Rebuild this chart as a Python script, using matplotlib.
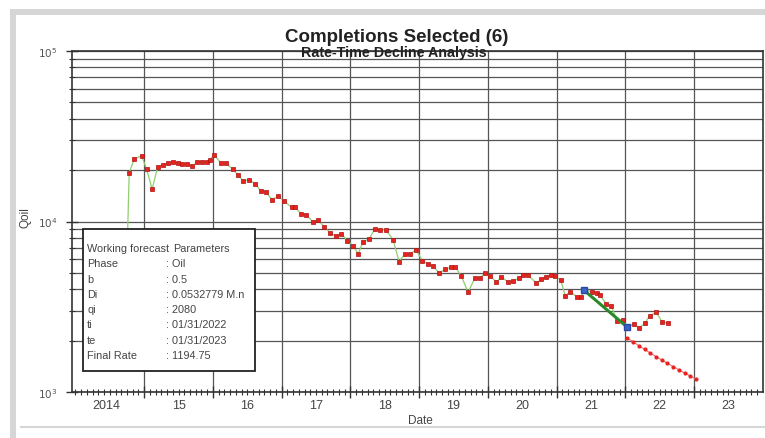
import matplotlib
matplotlib.use('Agg')
import matplotlib.pyplot as plt
from matplotlib.patches import Rectangle
from matplotlib.lines import Line2D
from matplotlib.ticker import FixedLocator, NullFormatter, LogLocator
import matplotlib.transforms as mtransforms

plt.rcParams['font.family'] = ['Liberation Sans Narrow', 'Liberation Sans', 'DejaVu Sans']

# ---------------- data (decimal years, Qoil) ----------------
dates = [2014.71, 2014.782, 2014.855, 2014.962, 2015.035, 2015.116, 2015.195, 2015.276, 2015.349,
         2015.422, 2015.486, 2015.553, 2015.625, 2015.698, 2015.771, 2015.844, 2015.916, 2015.956,
         2016.018, 2016.116, 2016.188, 2016.286, 2016.367, 2016.44, 2016.531, 2016.62, 2016.693,
         2016.766, 2016.862, 2016.949, 2017.032, 2017.144, 2017.192, 2017.289, 2017.362, 2017.45,
         2017.531, 2017.618, 2017.711, 2017.788, 2017.871, 2017.958, 2018.04, 2018.113, 2018.185,
         2018.273, 2018.356, 2018.428, 2018.516, 2018.622, 2018.709, 2018.792, 2018.875, 2018.952,
         2019.049, 2019.131, 2019.204, 2019.291, 2019.381, 2019.461, 2019.527, 2019.614, 2019.713,
         2019.81, 2019.883, 2019.956, 2020.039, 2020.126, 2020.199, 2020.295, 2020.367, 2020.455,
         2020.513, 2020.585, 2020.708, 2020.78, 2020.853, 2020.926, 2020.974, 2021.061, 2021.127,
         2021.199, 2021.294, 2021.362, 2021.396, 2021.519, 2021.585, 2021.629, 2021.726, 2021.799,
         2021.88, 2021.967, 2022.031, 2022.123, 2022.2, 2022.283, 2022.356, 2022.453, 2022.541,
         2022.622]
oil = [1500, 19230, 23220, 24270, 20290, 15490, 20770, 21520, 21910,
       22210, 21910, 21710, 21620, 21040, 22210, 22390, 22390, 22910,
       24610, 22010, 22010, 20290, 18720, 17340, 17500, 16580, 15150,
       14950, 13420, 14050, 13240, 12110, 12110, 11060, 10960, 9970,
       10200, 9320, 8530, 8260, 8450, 7720, 7220, 6450, 7610,
       7900, 9040, 8960, 8940, 7830, 5820, 6450, 6450, 6840,
       5900, 5640, 5470, 4995, 5250, 5395, 5410, 4800, 3850,
       4650, 4650, 4975, 4777, 4406, 4752, 4406, 4502, 4650,
       4862, 4862, 4345, 4606, 4752, 4862, 4817, 4545, 3678,
       3882, 3628, 3628, 3972, 3882, 3814, 3713, 3289, 3188,
       2626, 2651, 2402, 2512, 2370, 2535, 2810, 2940, 2570,
       2545]

fit_dates = [2021.396, 2022.031]
fit_rates = [3972, 2402]

fc_dates = [2022.031, 2022.114, 2022.198, 2022.281, 2022.364, 2022.448, 2022.531,
            2022.614, 2022.698, 2022.781, 2022.864, 2022.948, 2023.031]
fc_rates = [2080, 1973.4, 1874.9, 1783.5, 1698.7, 1619.8, 1546.2,
            1477.6, 1413.4, 1353.3, 1297.0, 1244.1, 1194.4]

year_bounds = [2015, 2016, 2017, 2018, 2019, 2020, 2021, 2022, 2023]
year_label_pos = [2014.45, 2015.5, 2016.5, 2017.5, 2018.5, 2019.5, 2020.5, 2021.5, 2022.5, 2023.5]
year_labels = ['2014', '15', '16', '17', '18', '19', '20', '21', '22', '23']
y_major = [1e3, 1e4, 1e5]
y_labels = [r'$10^{3}$', r'$10^{4}$', r'$10^{5}$']

param_names = ['Working forecast', 'Phase', 'b', 'Di', 'qi', 'ti', 'te', 'Final Rate']
param_values = ['Parameters', ': Oil', ': 0.5', ': 0.0532779 M.n', ': 2080',
                ': 01/31/2022', ': 01/31/2023', ': 1194.75']

# ---------------- figure ----------------
W, H = 765, 439
fig = plt.figure(figsize=(W / 100, H / 100), dpi=100)

def fx(px):
    return px / W

def fy(py):
    return 1 - py / H

ax = fig.add_axes([fx(72), fy(393.3), fx(762.7) - fx(72), fy(51.7) - fy(393.3)])
ax.set_yscale('log')
ax.set_xlim(2013.95, 2024.0)
ax.set_ylim(1e3, 1e5)

grid_c = '#555555'
ax.xaxis.set_major_locator(FixedLocator(year_bounds))
ax.xaxis.set_minor_locator(FixedLocator([y + m / 12 for y in range(2014, 2024) for m in range(12)]))
ax.xaxis.set_major_formatter(NullFormatter())
ax.yaxis.set_major_locator(FixedLocator(y_major))
ax.yaxis.set_minor_locator(LogLocator(base=10, subs=range(2, 10)))
ax.yaxis.set_minor_formatter(NullFormatter())
ax.set_yticklabels(y_labels)

ax.grid(True, axis='x', which='major', color=grid_c, lw=0.9)
ax.grid(True, axis='y', which='both', color=grid_c, lw=0.9)
ax.set_axisbelow(True)

ax.tick_params(axis='both', which='major', direction='inout', length=9, width=1, color='#333333')
ax.tick_params(axis='both', which='minor', direction='inout', length=5, width=0.8, color='#333333')
ax.tick_params(axis='y', which='major', labelsize=7.5, labelcolor='#555555', pad=6)
ax.tick_params(axis='x', which='major', labelbottom=False)

for s in ax.spines.values():
    s.set_color('#333333')
    s.set_linewidth(1.2)

trans = mtransforms.blended_transform_factory(ax.transData, ax.transAxes)
for pos, lab in zip(year_label_pos, year_labels):
    ax.text(pos, -0.02, lab, transform=trans, ha='center', va='top', fontsize=9, color='#444444')

fig.text(fx(420), fy(421), 'Date', ha='center', va='center', fontsize=8.5, color='#444444')
fig.text(fx(25), fy(218), 'Qoil', rotation=90, ha='center', va='center', fontsize=8.5,
         color='#444444')

# data
ax.plot(dates, oil, color='#8fcf6f', lw=0.9, zorder=3)
ax.plot(dates, oil, ls='none', marker='s', ms=3.4, mfc='#e8231f', mec='#b01010', mew=0.5, zorder=4)
ax.plot(fc_dates, fc_rates, color='#f07070', lw=0.8, marker='o', ms=2.0, mfc='#e8231f',
        mec='#e8231f', zorder=4)
ax.plot(fit_dates, fit_rates, color='#2a8a2a', lw=2.2, zorder=5)
ax.plot(fit_dates, fit_rates, ls='none', marker='s', ms=5, mfc='#3a64c8', mec='#2a4aa0', zorder=6)

# titles
fig.text(fx(397), fy(38), 'Completions Selected (6)', ha='center', va='center', fontsize=13.5,
         fontweight='bold', color='#222222')
fig.text(fx(394), fy(53.5), 'Rate-Time Decline Analysis', ha='center', va='center', fontsize=10.3,
         fontweight='bold', color='#222222')

# parameter box
box = Rectangle((fx(83), fy(372)), fx(255) - fx(83), fy(230) - fy(372), transform=fig.transFigure,
                facecolor='white', edgecolor='#222222', lw=1.3, zorder=10)
fig.patches.append(box)
for i, (n, v) in enumerate(zip(param_names, param_values)):
    yy = fy(249 + 15.3 * i)
    fig.text(fx(87), yy, n, ha='left', va='center', fontsize=7.8, color='#444444', zorder=11)
    fig.text(fx(166) if i > 0 else fx(173), yy, v, ha='left', va='center', fontsize=7.8,
             color='#444444', zorder=11)

# outer grey frame
frame_c = '#d6d6d6'
fig.patches.append(Rectangle((fx(10), 0), fx(16) - fx(10), fy(10), transform=fig.transFigure,
                             facecolor=frame_c, edgecolor='none', zorder=0))
fig.patches.append(Rectangle((fx(10), fy(16)), 1 - fx(10), fy(10) - fy(16), transform=fig.transFigure,
                             facecolor=frame_c, edgecolor='none', zorder=0))
fig.add_artist(Line2D([fx(21), 1], [fy(428), fy(428)], transform=fig.transFigure, color=frame_c, lw=1.5))

fig.savefig('out.png', dpi=100)
